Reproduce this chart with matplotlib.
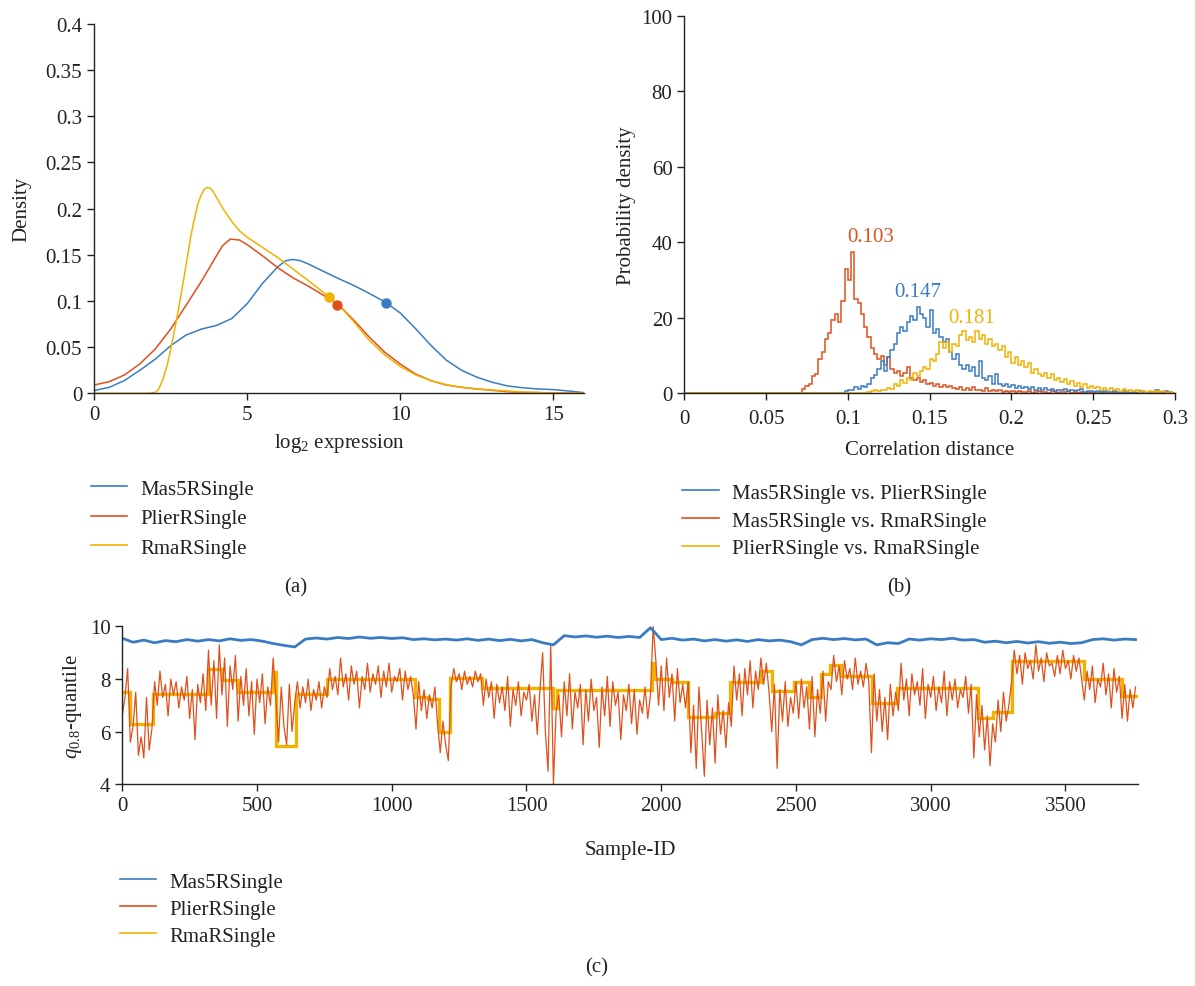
import numpy as np
import matplotlib
matplotlib.use("Agg")
import matplotlib.pyplot as plt
from matplotlib.lines import Line2D

plt.rcParams['font.family'] = ['Liberation Serif', 'DejaVu Serif']
plt.rcParams['mathtext.fontset'] = 'custom'
plt.rcParams['mathtext.rm'] = 'Liberation Serif'
plt.rcParams['mathtext.it'] = 'Liberation Serif:italic'

C_BLUE = '#3a7cc4'
C_RED = '#e0501c'
C_YEL = '#f2b200'
FS = 15

series_names = ['Mas5RSingle', 'PlierRSingle', 'RmaRSingle']
pair_names = ['Mas5RSingle vs. PlierRSingle', 'Mas5RSingle vs. RmaRSingle',
              'PlierRSingle vs. RmaRSingle']

# ---------------- panel (a): density of log2 expression ----------------
mas5_x = [0, 0.5, 1, 1.5, 2, 2.5, 3, 3.5, 4, 4.5, 5, 5.5, 6, 6.25, 6.5, 6.75, 7, 7.5, 8, 8.5,
          9, 9.5, 10, 10.5, 11, 11.5, 12, 12.5, 13, 13.5, 14, 14.5, 15, 15.5, 16]
mas5_d = [0.003, 0.0065, 0.014, 0.025, 0.037, 0.0515, 0.063, 0.0695, 0.0735, 0.081, 0.097,
          0.119, 0.137, 0.1435, 0.145, 0.1435, 0.140, 0.132, 0.124, 0.1165, 0.108, 0.099,
          0.087, 0.070, 0.052, 0.036, 0.025, 0.0175, 0.012, 0.008, 0.006, 0.0047, 0.004,
          0.0025, 0.0007]
plier_x = [0, 0.5, 1, 1.5, 2, 2.5, 3, 3.5, 3.75, 4, 4.2, 4.45, 4.75, 5, 5.5, 6, 6.5, 7, 7.5, 8,
           8.5, 9, 9.5, 10, 10.5, 11, 11.5, 12, 12.5, 13, 13.5, 14, 15, 16]
plier_d = [0.009, 0.0126, 0.020, 0.032, 0.048, 0.0695, 0.095, 0.121, 0.135, 0.149, 0.160,
           0.167, 0.166, 0.161, 0.149, 0.136, 0.125, 0.116, 0.106, 0.0955, 0.0786, 0.0605,
           0.0443, 0.0317, 0.0209, 0.0137, 0.009, 0.0065, 0.0047, 0.0032, 0.0018, 0.001,
           0.0004, 0.0]
rma_x = [0, 1, 1.8, 2.0, 2.1, 2.25, 2.4, 2.5, 2.65, 2.75, 2.9, 3.0, 3.15, 3.25, 3.4, 3.5, 3.6,
         3.7, 3.8, 3.9, 4.0, 4.25, 4.5, 4.75, 5, 5.5, 6, 6.5, 7, 7.5, 8, 8.5, 9, 9.5, 10, 10.5,
         11, 11.5, 12, 12.5, 13, 13.5, 14, 15, 16]
rma_d = [0, 0, 0, 0.001, 0.004, 0.015, 0.032, 0.047, 0.072, 0.090, 0.118, 0.138, 0.168, 0.185,
         0.206, 0.215, 0.221, 0.223, 0.222, 0.218, 0.212, 0.198, 0.186, 0.176, 0.169, 0.158,
         0.147, 0.1345, 0.122, 0.109, 0.0955, 0.0768, 0.057, 0.0414, 0.029, 0.020, 0.0137,
         0.0094, 0.0065, 0.0047, 0.0036, 0.0025, 0.0014, 0.0004, 0.0]
q08_x = [9.55, 7.95, 7.68]
q08_d = [0.098, 0.096, 0.1045]

# ---------------- panel (b): correlation distance histograms ----------------
bin_w = 0.002
mp_start = 0.098   # Mas5 vs Plier
mp_vals = [0.5, 0.8, 1.0, 1.6, 1.2, 2.0, 1.8, 2.5, 4.0, 4.8, 6.5, 8.5, 6.0, 9.5, 11.5, 13.0,
           16.0, 17.5, 16.5, 19.0, 20.5, 19.5, 23.0, 21.0, 20.0, 17.5, 22.0, 16.0, 17.0, 15.0,
           13.5, 14.5, 11.0, 9.0, 10.5, 7.5, 6.5, 7.5, 6.0, 7.0, 4.5, 8.5, 4.0, 3.5, 4.5, 2.5,
           5.0, 2.5, 2.0, 2.5, 1.8, 2.2, 1.5, 2.0, 1.4, 1.8, 1.2, 1.6, 1.0, 1.5, 0.9, 1.3, 0.8,
           1.2, 0.7, 1.0, 0.8, 1.1, 0.6, 0.9, 0.5, 0.8, 1.2, 0.4, 0.7, 0.5, 0.4, 0.6, 0.3, 0.5,
           0.3, 0.4, 0.6, 0.3, 0.2, 0.5, 0.3, 0.2, 0.4, 0.2, 0.6, 0.3, 0.2, 0.4, 0.3, 0.9, 0.4,
           0.2, 0.5, 0.3, 0.2]
mr_start = 0.072   # Mas5 vs Rma
mr_vals = [1.2, 2.0, 2.5, 4.5, 5.0, 9.0, 11.0, 14.5, 16.0, 19.5, 21.0, 19.0, 24.5, 33.0, 30.0,
           37.5, 25.0, 24.0, 21.0, 17.5, 15.0, 12.0, 10.5, 9.0, 10.0, 7.5, 9.5, 6.5, 5.5, 6.0,
           4.5, 5.5, 7.0, 4.0, 3.5, 4.0, 3.0, 3.5, 2.5, 2.8, 2.0, 2.4, 1.8, 2.2, 1.6, 2.0, 1.4,
           1.2, 1.6, 1.0, 1.3, 0.9, 1.8, 0.8, 1.0, 0.7, 1.5, 0.6, 0.9, 0.5, 0.8, 0.4, 0.6, 0.4,
           0.5, 0.3, 0.6, 0.4, 0.3, 0.5, 0.2, 0.4, 0.6, 0.3, 0.4, 0.2, 0.5, 0.3, 0.2, 0.4, 0.3,
           0.5, 0.2, 0.3, 0.2, 0.4, 0.1, 0.3, 0.2, 0.3, 0.1, 0.2, 0.4, 0.2, 0.1, 0.3, 0.2, 0.1,
           0.2, 0.3, 0.1, 0.2, 0.1, 0.2, 0.1, 0.2, 0.1, 0.1, 0.3, 0.1, 0.2, 0.1, 0.1, 0.2]
pr_start = 0.112   # Plier vs Rma
pr_vals = [0.3, 0.5, 0.8, 0.6, 1.0, 0.8, 1.5, 1.2, 2.5, 2.0, 3.5, 2.8, 4.0, 3.5, 5.5, 4.5, 6.0,
           7.0, 6.5, 9.0, 8.5, 10.5, 13.5, 12.0, 13.5, 11.0, 13.0, 12.5, 15.5, 16.5, 14.0, 15.0,
           13.5, 16.5, 14.5, 15.5, 13.0, 14.5, 12.5, 13.0, 11.5, 12.5, 9.5, 11.0, 8.0, 9.5, 7.5,
           8.5, 7.0, 8.0, 5.5, 6.5, 5.0, 4.5, 5.5, 4.0, 5.0, 3.5, 4.0, 3.0, 3.8, 2.5, 3.2, 2.0,
           2.8, 1.8, 2.5, 1.5, 2.0, 1.3, 1.8, 1.0, 1.5, 0.9, 1.3, 0.8, 1.2, 0.7, 1.1, 0.6, 0.9,
           0.5, 0.8, 0.4, 0.7, 0.4, 0.6, 0.3, 0.5, 0.3, 0.6, 0.2, 0.4, 0.2]
medians = [0.147, 0.103, 0.181]
median_text_xy = [(0.1425, 26.9), (0.114, 41.5), (0.176, 20.2)]

# ---------------- panel (c): 0.8-quantile per sample ----------------
mas5_step = 40
mas5_q = [9.55, 9.4, 9.48, 9.38, 9.46, 9.42, 9.5, 9.44, 9.5, 9.45,
          9.53, 9.47, 9.5, 9.44, 9.35, 9.28, 9.22, 9.52, 9.56, 9.52,
          9.58, 9.54, 9.6, 9.55, 9.58, 9.54, 9.57, 9.5, 9.53, 9.49,
          9.52, 9.48, 9.53, 9.47, 9.52, 9.46, 9.51, 9.45, 9.5, 9.38,
          9.3, 9.65, 9.6, 9.64, 9.59, 9.63, 9.58, 9.62, 9.58, 9.95,
          9.5, 9.55, 9.48, 9.52, 9.45, 9.5, 9.44, 9.49, 9.43, 9.5,
          9.45, 9.48, 9.42, 9.3, 9.5, 9.55, 9.5, 9.54, 9.49, 9.52,
          9.3, 9.38, 9.35, 9.52, 9.48, 9.53, 9.5, 9.55, 9.48, 9.5,
          9.4, 9.44, 9.38, 9.43, 9.37, 9.42, 9.36, 9.4, 9.35, 9.38,
          9.5, 9.53, 9.48, 9.52, 9.5]
plier_step = 10
plier_q = [6.6, 7.3, 8.4,
           5.6, 6.2, 7.5, 5.1, 5.8, 5.0, 7.3, 5.3, 6.1,
           7.9, 7.0, 8.3, 7.3, 7.8, 6.6, 8.0, 7.4, 7.9, 6.9, 7.7, 7.2, 8.1, 6.5, 7.6, 5.7, 7.8,
           7.1, 8.2, 6.8,
           9.1, 7.0, 8.7, 6.5, 9.3, 7.4, 8.8, 6.2, 8.5, 7.6, 8.9,
           6.4, 8.1, 7.0, 8.4, 6.6, 7.9, 5.9, 8.0, 7.1, 8.2, 6.3, 7.7, 7.0,
           8.8, 7.3, 5.6, 7.7, 6.2, 5.5, 7.8, 6.0, 7.1,
           7.9, 6.9, 7.7, 7.1, 8.0, 6.8, 7.6, 7.2, 7.9, 6.9, 7.7,
           7.3, 8.4, 7.6, 8.1, 7.4, 8.8, 7.7, 8.2, 7.2, 8.5, 7.8, 8.3, 6.9, 8.1, 7.6, 8.6, 7.5,
           8.2, 7.8, 8.5, 7.3, 8.3, 7.7, 8.6, 7.5, 8.1, 7.9, 8.4, 7.2, 8.3, 7.6, 8.1, 7.4,
           6.1, 7.9, 6.8, 7.6, 6.5, 7.4, 6.9, 7.7, 6.3,
           5.2, 6.4, 5.5, 4.9,
           7.7, 8.4, 7.9, 8.2, 7.6, 8.3, 7.8, 8.1, 7.7, 8.3, 7.9, 8.2,
           7.0, 8.0, 7.3, 7.9, 6.5, 7.8, 7.1, 7.7, 6.8, 8.1, 6.2, 7.6, 7.0, 7.9, 6.6, 7.5, 7.2,
           7.8, 6.4, 7.4, 5.9, 7.6, 9.0, 6.0, 4.5, 9.3,
           4.0, 6.8,
           7.4, 5.8, 7.9, 6.6, 8.2, 6.1, 7.5, 6.9, 7.8, 5.5, 7.6, 6.4, 8.0, 6.8, 7.3, 5.4, 7.7,
           6.6, 8.1, 6.2, 7.9, 7.0, 7.5, 5.7, 7.4, 6.8, 7.8, 6.3, 7.6, 5.9, 7.2, 6.7, 7.7, 6.5,
           7.4,
           10.0,
           8.7, 7.0, 8.5, 6.8, 8.8, 7.3, 8.2, 6.4, 8.4, 7.1, 7.8, 6.9, 7.9,
           5.2, 7.0, 4.6, 7.7, 6.0, 4.3, 7.2, 5.5, 6.9, 4.8, 7.4, 5.9, 6.8, 5.4, 7.1,
           6.2, 8.5, 7.2, 8.2, 6.6, 8.4, 7.4, 8.7, 6.9, 8.3, 7.6, 8.8, 7.8, 8.6, 7.5,
           6.0, 7.8, 4.6, 7.6, 6.4, 7.9, 6.2, 7.3, 6.7,
           7.9, 6.5, 8.0, 6.9, 7.7, 6.1, 8.1, 5.8, 7.6, 6.7, 8.3, 6.4, 7.9,
           7.6, 8.9, 7.9, 8.5, 7.4, 8.7, 8.0, 8.4, 7.6, 8.8, 7.8, 8.3, 7.7, 8.6, 7.9,
           5.2, 8.2, 6.4, 7.6, 6.0, 7.3, 5.7, 7.8, 6.6, 7.5,
           6.8, 8.6, 7.2, 8.0, 6.6, 8.2, 7.4, 7.9, 7.0, 8.4, 6.5, 7.8, 7.3, 8.1, 6.8, 7.7, 7.1,
           8.3, 6.6, 7.9, 7.2, 8.0, 6.9, 7.6, 7.3, 8.1, 6.7, 7.8, 5.0, 7.4,
           5.8, 7.0, 5.3, 6.6, 4.7, 6.3, 5.6, 7.2, 6.0, 7.5, 6.4, 7.0,
           7.9, 9.1, 8.2, 8.9, 7.8, 9.0, 8.4, 8.7, 8.0, 9.3, 8.3, 8.8, 7.9, 9.0, 8.5, 8.6, 8.1,
           8.9, 8.2, 9.1, 8.4, 8.7, 8.0, 8.9, 8.3, 8.8, 8.0,
           7.2, 8.3, 7.6, 8.5, 7.1, 8.0, 7.7, 8.6, 7.4, 8.2, 6.9, 8.4, 7.5, 8.1,
           6.5, 7.8, 6.4, 7.6, 6.9, 7.7]
rma_edges = [0, 30, 115, 320, 370, 430, 560, 572, 645, 760, 1085, 1135, 1175, 1215, 1335, 1600,
             1612, 1965, 1975, 2040, 2101, 2200, 2255, 2370, 2412, 2493, 2547, 2594, 2628, 2668,
             2783, 2875, 3175, 3230, 3300, 3570, 3710, 3770]
rma_levels = [7.5, 6.3, 7.45, 8.4, 7.95, 7.5, 8.25, 5.45, 7.45, 8.0, 7.3, 7.25, 6.0, 8.05, 7.65,
              6.9, 7.6, 8.6, 8.0, 7.9, 6.55, 6.7, 7.9, 8.3, 7.55, 7.9, 7.3, 8.2, 8.55, 8.1, 7.1,
              7.65, 6.5, 6.75, 8.7, 8.0, 7.35]

INK = '#222222'


def style_axes(ax):
    for s in ['top', 'right']:
        ax.spines[s].set_visible(False)
    for s in ['left', 'bottom']:
        ax.spines[s].set_linewidth(1.0)
        ax.spines[s].set_color(INK)
    ax.tick_params(direction='out', length=5, width=1.0, colors=INK,
                   labelsize=FS, labelcolor=INK)


def fmt(v):
    return ('%.2f' % v).rstrip('0').rstrip('.')


fig = plt.figure(figsize=(11.95, 9.87), dpi=100)
cols = [C_BLUE, C_RED, C_YEL]

# ---- (a)
axa = fig.add_axes([0.0787, 0.6005, 0.410, 0.3742])
axa.plot(mas5_x, mas5_d, color=C_BLUE, lw=1.1)
axa.plot(plier_x, plier_d, color=C_RED, lw=1.1)
axa.plot(rma_x, rma_d, color=C_YEL, lw=1.1)
for xq, dq, c in zip(q08_x, q08_d, cols):
    axa.plot([xq], [dq], 'o', color=c, ms=6.5, zorder=5)
axa.set_xlim(0, 16)
axa.set_ylim(0, 0.4)
yt = [0, 0.05, 0.1, 0.15, 0.2, 0.25, 0.3, 0.35, 0.4]
axa.set_yticks(yt)
axa.set_yticklabels([fmt(v) for v in yt])
axa.set_xticks([0, 5, 10, 15])
axa.set_xticklabels(['0', '5', '10', '15'])
axa.set_ylabel('Density', fontsize=FS, color=INK, labelpad=10)
axa.set_xlabel(r'log$_2$ expression', fontsize=FS, color=INK, labelpad=5)
style_axes(axa)

# ---- (b)
axb = fig.add_axes([0.5726, 0.6005, 0.4106, 0.3823])
hist_specs = [(mr_start, mr_vals, C_RED), (mp_start, mp_vals, C_BLUE), (pr_start, pr_vals, C_YEL)]
for start, vals, c in hist_specs:
    edges = np.concatenate([[0.0], start + bin_w * np.arange(len(vals) + 1)])
    axb.stairs(np.concatenate([[0.0], vals]), edges, color=c, lw=1.1, baseline=None)
for (tx, ty), m, c in zip(median_text_xy, medians, cols):
    axb.text(tx, ty, '%.3f' % m, color=c, fontsize=FS, ha='center', va='center')
axb.set_xlim(0, 0.3)
axb.set_ylim(0, 100)
xt = [0, 0.05, 0.1, 0.15, 0.2, 0.25, 0.3]
axb.set_xticks(xt)
axb.set_xticklabels([fmt(v) for v in xt])
axb.set_yticks([0, 20, 40, 60, 80, 100])
axb.set_ylabel('Probability density', fontsize=FS, color=INK)
axb.set_xlabel('Correlation distance', fontsize=FS, color=INK, labelpad=9)
style_axes(axb)
axb.tick_params(axis='x', pad=6)

# ---- (c)
axc = fig.add_axes([0.1023, 0.2044, 0.8502, 0.1599])
plier_ids = plier_step * np.arange(len(plier_q))
mas5_ids = mas5_step * np.arange(len(mas5_q))
axc.plot(plier_ids, plier_q, color=C_RED, lw=0.9)
axc.stairs(rma_levels, rma_edges, color=C_YEL, lw=2.4, baseline=None)
axc.plot(mas5_ids, mas5_q, color=C_BLUE, lw=2.0)
axc.set_xlim(0, 3770)
axc.set_ylim(4, 10)
axc.set_yticks([4, 6, 8, 10])
axc.set_xticks([0, 500, 1000, 1500, 2000, 2500, 3000, 3500])
axc.set_ylabel(r'$q_{0.8}$-quantile', fontsize=FS, color=INK)
axc.set_xlabel('Sample-ID', fontsize=FS, color=INK, labelpad=18)
style_axes(axc)


# ---- legends
def add_legend(labels, x0, y0, spacing):
    handles = [Line2D([], [], color=c, lw=1.2) for c in cols]
    fig.legend(handles, labels, loc='upper left', bbox_to_anchor=(x0, y0), frameon=False,
               fontsize=FS, handlelength=1.75, handletextpad=0.65, labelspacing=spacing,
               borderpad=0, borderaxespad=0, labelcolor=INK)


add_legend(series_names, 0.076, 1 - 480 / 987, 0.48)
add_legend(pair_names, 0.571, 1 - 484 / 987, 0.40)
add_legend(series_names, 0.100, 1 - 873 / 987, 0.36)

fig.text(296 / 1195, 1 - 588 / 987, '(a)', fontsize=FS, ha='center', va='center', color=INK)
fig.text(899 / 1195, 1 - 588 / 987, '(b)', fontsize=FS, ha='center', va='center', color=INK)
fig.text(597 / 1195, 1 - 968 / 987, '(c)', fontsize=FS, ha='center', va='center', color=INK)

fig.savefig('out.png', dpi=100)
